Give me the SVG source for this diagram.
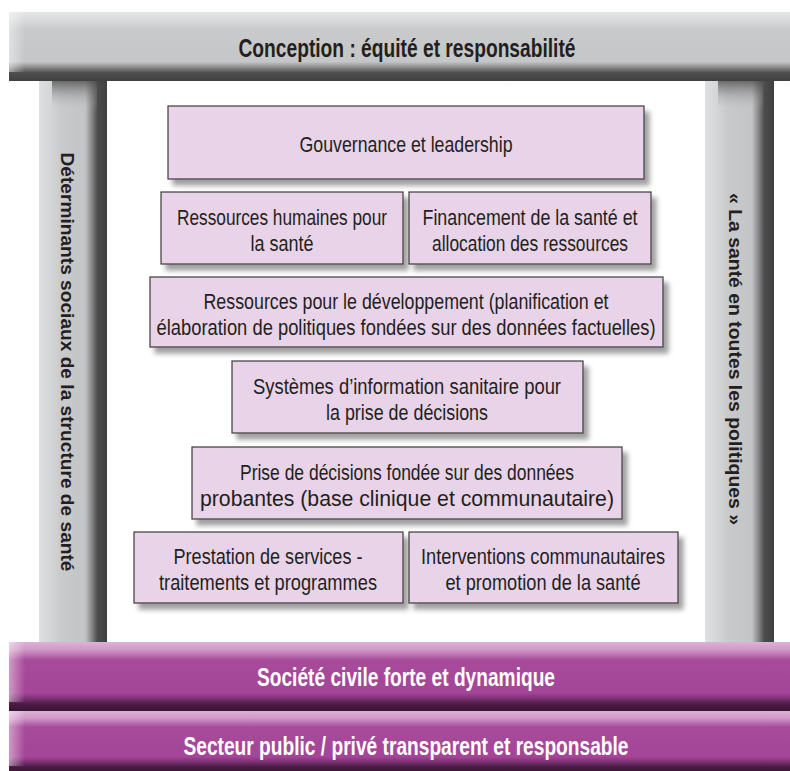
<svg xmlns="http://www.w3.org/2000/svg" width="790" height="771" viewBox="0 0 790 771">
<defs>
<linearGradient id="gTop" x1="0" y1="0" x2="0" y2="1">
<stop offset="0" stop-color="#e6e7e8"/>
<stop offset="0.12" stop-color="#d9dadb"/>
<stop offset="0.25" stop-color="#c9cacc"/>
<stop offset="0.72" stop-color="#c5c6c8"/>
<stop offset="0.8" stop-color="#8c8c8d"/>
<stop offset="0.88" stop-color="#4f4f50"/>
<stop offset="1" stop-color="#404041"/>
</linearGradient>
<linearGradient id="gPillar" x1="0" y1="0" x2="1" y2="0">
<stop offset="0" stop-color="#dedfe0"/>
<stop offset="0.22" stop-color="#d2d3d5"/>
<stop offset="0.32" stop-color="#c9cacc"/>
<stop offset="0.68" stop-color="#c3c4c6"/>
<stop offset="0.77" stop-color="#8a8a8b"/>
<stop offset="0.86" stop-color="#4c4c4d"/>
<stop offset="1" stop-color="#3f3f40"/>
</linearGradient>
<linearGradient id="gPillarTop" x1="0" y1="0" x2="0" y2="1">
<stop offset="0" stop-color="#4a4a4a" stop-opacity="0.75"/>
<stop offset="0.5" stop-color="#7a7a7a" stop-opacity="0.3"/>
<stop offset="1" stop-color="#c8c9cb" stop-opacity="0"/>
</linearGradient>
<linearGradient id="gPurple" x1="0" y1="0" x2="0" y2="1">
<stop offset="0" stop-color="#dcb3d6"/>
<stop offset="0.12" stop-color="#cf96c7"/>
<stop offset="0.26" stop-color="#a84b9b"/>
<stop offset="0.74" stop-color="#a44597"/>
<stop offset="0.82" stop-color="#7c3072"/>
<stop offset="0.9" stop-color="#4b1b44"/>
<stop offset="1" stop-color="#3a1434"/>
</linearGradient>
<linearGradient id="gBevel" x1="0" y1="0" x2="1" y2="0">
<stop offset="0" stop-color="#ffffff" stop-opacity="0.45"/>
<stop offset="1" stop-color="#ffffff" stop-opacity="0"/>
</linearGradient>
<filter id="shadow" x="-5%" y="-10%" width="115%" height="130%">
<feDropShadow dx="5" dy="6" stdDeviation="2.5" flood-color="#808080" flood-opacity="0.75"/>
</filter>
</defs>
<style>
.box{fill:#e9d3e8;stroke:#3a3a3a;stroke-width:1.2;filter:url(#shadow)}
.t{font-family:"Liberation Sans Narrow","Liberation Sans",Arial,sans-serif;font-size:22px;fill:#231f20;text-anchor:middle}
.h{font-family:"Liberation Sans Narrow","Liberation Sans",Arial,sans-serif;font-weight:bold;font-size:26px;text-anchor:middle}
.v{font-family:"Liberation Sans Narrow","Liberation Sans",Arial,sans-serif;font-weight:bold;font-size:19px;fill:#231f20;text-anchor:middle}
</style>
<rect width="790" height="771" fill="#ffffff"/>

<g id="left-pillar">
<rect x="39" y="81" width="68" height="562" fill="url(#gPillar)"/>
<rect x="52" y="81" width="45" height="30" fill="url(#gPillarTop)"/>
<text class="v" transform="translate(61,362) rotate(90)" textLength="419" lengthAdjust="spacingAndGlyphs">Déterminants sociaux de la structure de santé</text>
</g>

<g id="right-pillar">
<rect x="705" y="81" width="69" height="562" fill="url(#gPillar)"/>
<rect x="718" y="81" width="45" height="30" fill="url(#gPillarTop)"/>
<text class="v" transform="translate(729,359) rotate(90)" textLength="332" lengthAdjust="spacingAndGlyphs">« La santé en toutes les politiques »</text>
</g>

<g id="top-bar">
<rect x="9" y="12" width="781" height="69" fill="url(#gTop)"/>
<rect x="9" y="12" width="16" height="60" fill="url(#gBevel)"/>
<text class="h" x="407" y="57" fill="#231f20" textLength="337" lengthAdjust="spacingAndGlyphs">Conception : équité et responsabilité</text>
</g>

<g id="bar-civil">
<rect x="9" y="642" width="781" height="69" fill="url(#gPurple)"/>
<rect x="9" y="642" width="16" height="60" fill="url(#gBevel)"/>
<text class="h" x="406" y="686" fill="#ffffff" textLength="298" lengthAdjust="spacingAndGlyphs">Société civile forte et dynamique</text>
</g>

<g id="bar-public">
<rect x="9" y="711" width="781" height="62" fill="url(#gPurple)"/>
<rect x="9" y="711" width="16" height="55" fill="url(#gBevel)"/>
<text class="h" x="406" y="755" fill="#ffffff" textLength="445" lengthAdjust="spacingAndGlyphs">Secteur public / privé transparent et responsable</text>
</g>

<g id="gouvernance">
<rect class="box" x="168" y="106" width="476" height="73"/>
<text class="t" x="406" y="152" textLength="213" lengthAdjust="spacingAndGlyphs">Gouvernance et leadership</text>
</g>

<g id="ressources-humaines">
<rect class="box" x="161" y="192" width="242" height="72"/>
<text class="t" x="282" y="225" textLength="210" lengthAdjust="spacingAndGlyphs">Ressources humaines pour</text>
<text class="t" x="282" y="251" textLength="63" lengthAdjust="spacingAndGlyphs">la santé</text>
</g>

<g id="financement">
<rect class="box" x="409" y="192" width="242" height="72"/>
<text class="t" x="530" y="225" textLength="215" lengthAdjust="spacingAndGlyphs">Financement de la santé et</text>
<text class="t" x="530" y="251" textLength="196" lengthAdjust="spacingAndGlyphs">allocation des ressources</text>
</g>

<g id="ressources-developpement">
<rect class="box" x="150" y="277" width="513" height="70"/>
<text class="t" x="406" y="309" textLength="405" lengthAdjust="spacingAndGlyphs">Ressources pour le développement (planification et</text>
<text class="t" x="406" y="335" textLength="499" lengthAdjust="spacingAndGlyphs">élaboration de politiques fondées sur des données factuelles)</text>
</g>

<g id="systemes-information">
<rect class="box" x="232" y="361" width="351" height="72"/>
<text class="t" x="407" y="394" textLength="308" lengthAdjust="spacingAndGlyphs">Systèmes d’information sanitaire pour</text>
<text class="t" x="407" y="420" textLength="162" lengthAdjust="spacingAndGlyphs">la prise de décisions</text>
</g>

<g id="prise-decisions">
<rect class="box" x="192" y="447" width="430" height="72"/>
<text class="t" x="407" y="480" textLength="334" lengthAdjust="spacingAndGlyphs">Prise de décisions fondée sur des données</text>
<text class="t" x="407" y="506" textLength="414" lengthAdjust="spacingAndGlyphs">probantes (base clinique et communautaire)</text>
</g>

<g id="prestation-services">
<rect class="box" x="134" y="532" width="269" height="71"/>
<text class="t" x="268" y="564" textLength="189" lengthAdjust="spacingAndGlyphs">Prestation de services -</text>
<text class="t" x="268" y="590" textLength="218" lengthAdjust="spacingAndGlyphs">traitements et programmes</text>
</g>

<g id="interventions-communautaires">
<rect class="box" x="409" y="532" width="269" height="71"/>
<text class="t" x="543" y="564" textLength="244" lengthAdjust="spacingAndGlyphs">Interventions communautaires</text>
<text class="t" x="543" y="590" textLength="195" lengthAdjust="spacingAndGlyphs">et promotion de la santé</text>
</g>

<g id="connectors"></g>
</svg>
